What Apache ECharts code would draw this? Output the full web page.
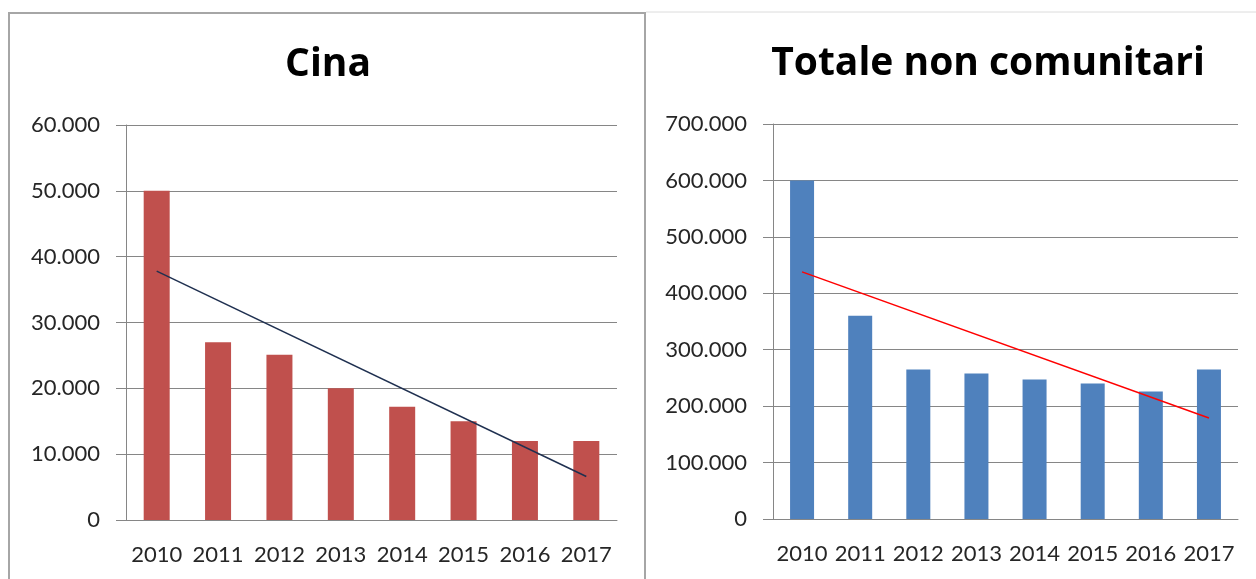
<!DOCTYPE html>
<html>
	<head>
		<meta charset="UTF-8">
		<title>Cina - Totale non comunitari</title>
		<script src="https://cdn.jsdelivr.net/npm/echarts@6/dist/echarts.min.js"></script>
		<style>
			html, body { margin: 0; padding: 0; background: #fff; }
			#chart { width: 1256px; height: 579px; }
		</style>
	</head>
	<body>
		<div id="chart"></div>
		<script>
			var years = ['2010', '2011', '2012', '2013', '2014', '2015', '2016', '2017'];
			var cina = [50000, 27000, 25100, 20000, 17200, 15000, 12000, 12000];
			var totale = [600000, 360000, 265000, 258000, 247000, 240000, 226000, 265000];
			// trend line ends (first and last year)
			var cinaTrend = [37800, null, null, null, null, null, null, 6600];
			var totaleTrend = [438000, null, null, null, null, null, null, 179000];
			var cinaTicks = { max: 60000, interval: 10000 };
			var totaleTicks = { max: 700000, interval: 100000 };

			function fmt(v) {
				return String(v).replace(/\B(?=(\d{3})+(?!\d))/g, '.');
			}

			var axisGray = '#868686';
			var labelFont = { fontFamily: 'Lato', fontSize: 22, color: '#262626' };
			var titleFont = { fontFamily: 'Open Sans', fontWeight: 'bold', fontSize: 39, color: '#000' };

			function xAxis(idx) {
				return {
					type: 'category', gridIndex: idx, data: years,
					axisLine: { lineStyle: { color: axisGray } },
					axisTick: { length: 8, lineStyle: { color: axisGray } },
					axisLabel: Object.assign({ margin: 24, interval: 0 }, labelFont)
				};
			}

			function yAxis(idx, ticks) {
				return {
					type: 'value', gridIndex: idx, min: 0, max: ticks.max, interval: ticks.interval,
					axisLine: { show: true, lineStyle: { color: axisGray } },
					axisTick: { show: true, length: 10, lineStyle: { color: axisGray } },
					splitLine: { lineStyle: { color: axisGray } },
					axisLabel: Object.assign({ margin: 26, formatter: fmt }, labelFont)
				};
			}

			var chart = echarts.init(document.getElementById('chart'), null, { renderer: 'canvas' });
			chart.setOption({
				backgroundColor: '#fff',
				animation: false,
				title: [
					{ text: 'Cina', left: 328, top: 45, textAlign: 'center', padding: 0, textStyle: titleFont },
					{ text: 'Totale non comunitari', left: 988, top: 44, textAlign: 'center', padding: 0, textStyle: titleFont }
				],
				graphic: [
					{ type: 'rect', shape: { x: 9, y: 13, width: 636, height: 580 },
						style: { fill: 'none', stroke: '#a6a6a6', lineWidth: 2 }, z: -1 },
					{ type: 'line', shape: { x1: 646, y1: 12, x2: 1256, y2: 12 },
						style: { stroke: '#dcdcdc', lineWidth: 1 }, z: -1 }
				],
				grid: [
					{ left: 126, top: 125, width: 491, height: 395 },
					{ left: 773, top: 124, width: 465, height: 395 }
				],
				xAxis: [xAxis(0), xAxis(1)],
				yAxis: [yAxis(0, cinaTicks), yAxis(1, totaleTicks)],
				series: [
					{ type: 'bar', xAxisIndex: 0, yAxisIndex: 0, data: cina, barWidth: 26,
						itemStyle: { color: '#c0504d' } },
					{ type: 'line', xAxisIndex: 0, yAxisIndex: 0, data: cinaTrend, connectNulls: true,
						showSymbol: false, lineStyle: { color: '#1f3050', width: 1.5 }, z: 3 },
					{ type: 'bar', xAxisIndex: 1, yAxisIndex: 1, data: totale, barWidth: 24,
						itemStyle: { color: '#4f81bd' } },
					{ type: 'line', xAxisIndex: 1, yAxisIndex: 1, data: totaleTrend, connectNulls: true,
						showSymbol: false, lineStyle: { color: '#ff0000', width: 1.5 }, z: 3 }
				]
			});
		</script>
	</body>
</html>
